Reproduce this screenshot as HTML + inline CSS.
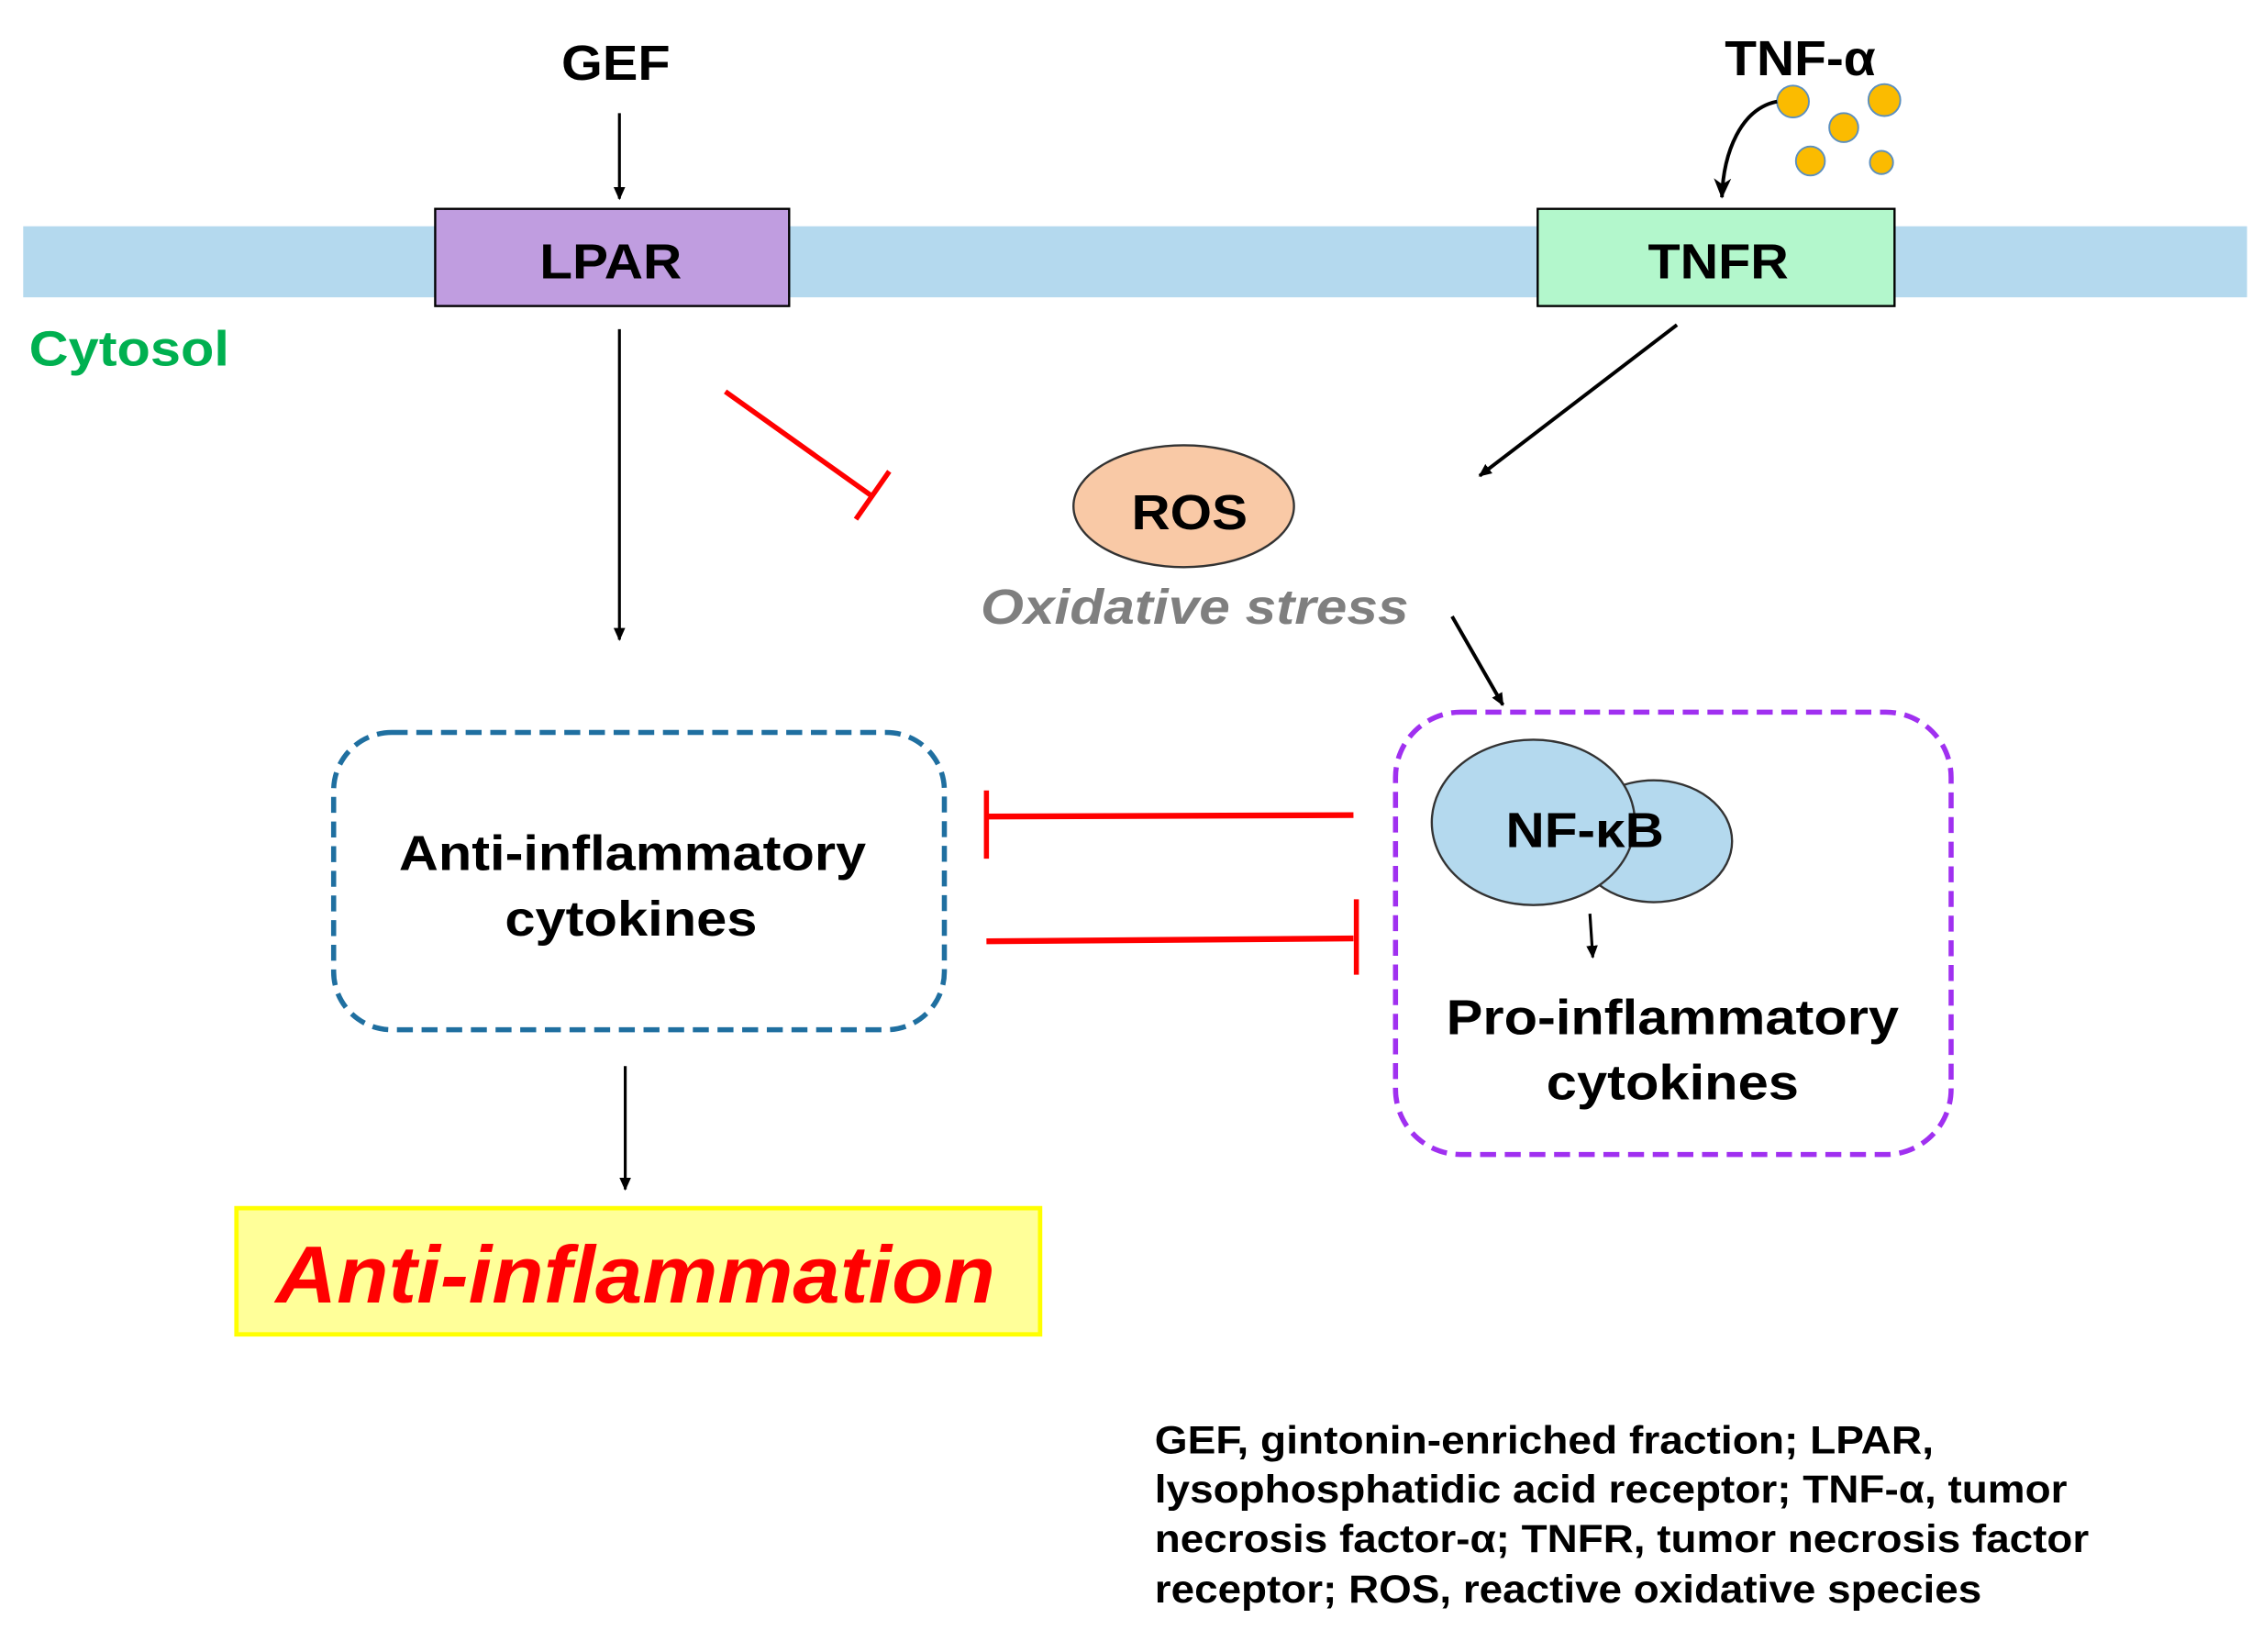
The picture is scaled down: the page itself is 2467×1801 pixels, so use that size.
<!DOCTYPE html>
<html><head><meta charset="utf-8"><style>html,body{margin:0;padding:0;background:#fff}svg{display:block}</style></head>
<body>
<svg width="2467" height="1801" viewBox="0 0 1560 1139" preserveAspectRatio="none" xmlns="http://www.w3.org/2000/svg" font-family="'Liberation Sans', Arial, sans-serif" font-weight="bold">
<defs>
<marker id="ah" markerWidth="10" markerHeight="10" refX="8" refY="5" orient="auto" markerUnits="userSpaceOnUse"><path d="M0,1 L9,5 L0,9 Z" fill="#000"/></marker>
<marker id="ah2" markerWidth="16" markerHeight="14" refX="13" refY="7" orient="auto" markerUnits="userSpaceOnUse"><path d="M0,1 L14,7 L0,13 L4,7 Z" fill="#000"/></marker>
</defs>
<rect x="16" y="156" width="1533" height="49" fill="#b4d9ee"/>
<rect x="300" y="144" width="244" height="67" fill="#c09de0" stroke="#000" stroke-width="1.5"/>
<text x="372" y="192" font-size="34" textLength="98" lengthAdjust="spacingAndGlyphs">LPAR</text>
<rect x="1060" y="144" width="246" height="67" fill="#b3f7cc" stroke="#000" stroke-width="1.5"/>
<text x="1136" y="192" font-size="34" textLength="97" lengthAdjust="spacingAndGlyphs">TNFR</text>
<text x="387" y="55" font-size="34" textLength="75" lengthAdjust="spacingAndGlyphs">GEF</text>
<line x1="427" y1="78" x2="427" y2="137" stroke="#000" stroke-width="2" marker-end="url(#ah)"/>
<text x="1189" y="52" font-size="34" textLength="104" lengthAdjust="spacingAndGlyphs">TNF-α</text>
<g fill="#fbbb00" stroke="#5b8fbf" stroke-width="1.2">
<circle cx="1236" cy="70" r="11"/><circle cx="1299" cy="69" r="11"/><circle cx="1271" cy="88" r="10"/><circle cx="1248" cy="111" r="10"/><circle cx="1297" cy="112" r="8"/>
</g>
<path d="M1225,70 C1200,75 1188,105 1187,136" fill="none" stroke="#000" stroke-width="2.5" marker-end="url(#ah2)"/>
<text x="20" y="252" font-size="34" fill="#00b050" textLength="138" lengthAdjust="spacingAndGlyphs">Cytosol</text>
<line x1="427" y1="227" x2="427" y2="441" stroke="#000" stroke-width="2" marker-end="url(#ah)"/>
<line x1="500" y1="270" x2="601" y2="342" stroke="#f00" stroke-width="3.5"/>
<line x1="613" y1="325" x2="590" y2="358" stroke="#f00" stroke-width="3.5"/>
<line x1="1156" y1="224" x2="1020" y2="328" stroke="#000" stroke-width="2.5" marker-end="url(#ah)"/>
<ellipse cx="816" cy="349" rx="76" ry="42" fill="#f9c9a6" stroke="#333" stroke-width="1.5"/>
<text x="780" y="365" font-size="34" textLength="80" lengthAdjust="spacingAndGlyphs">ROS</text>
<text x="676" y="430" font-size="34" font-style="italic" fill="#7f7f7f" textLength="295" lengthAdjust="spacingAndGlyphs">Oxidative stress</text>
<line x1="1001" y1="425" x2="1036" y2="486" stroke="#000" stroke-width="2.5" marker-end="url(#ah)"/>
<rect x="230" y="505" width="421" height="205" rx="40" fill="none" stroke="#1f6fa0" stroke-width="3.5" stroke-dasharray="11,6"/>
<text x="275" y="600" font-size="34" textLength="322" lengthAdjust="spacingAndGlyphs">Anti-inflammatory</text>
<text x="348" y="645" font-size="34" textLength="174" lengthAdjust="spacingAndGlyphs">cytokines</text>
<line x1="933" y1="562" x2="680" y2="563" stroke="#f00" stroke-width="4"/>
<line x1="680" y1="545" x2="680" y2="592" stroke="#f00" stroke-width="3.5"/>
<line x1="680" y1="649" x2="933" y2="647" stroke="#f00" stroke-width="4"/>
<line x1="935" y1="620" x2="935" y2="672" stroke="#f00" stroke-width="3.5"/>
<rect x="962" y="491" width="383" height="305" rx="45" fill="none" stroke="#a030f0" stroke-width="3.5" stroke-dasharray="11,6"/>
<ellipse cx="1140" cy="580" rx="54" ry="42" fill="#b4d9ee" stroke="#333" stroke-width="1.5"/>
<ellipse cx="1057" cy="567" rx="70" ry="57" fill="#b4d9ee" stroke="#333" stroke-width="1.5"/>
<text x="1038" y="584" font-size="34" textLength="109" lengthAdjust="spacingAndGlyphs">NF-κB</text>
<line x1="1096" y1="630" x2="1098" y2="660" stroke="#000" stroke-width="2" marker-end="url(#ah)"/>
<text x="997" y="713" font-size="34" textLength="312" lengthAdjust="spacingAndGlyphs">Pro-inflammatory</text>
<text x="1066" y="758" font-size="34" textLength="174" lengthAdjust="spacingAndGlyphs">cytokines</text>
<line x1="431" y1="735" x2="431" y2="820" stroke="#000" stroke-width="2" marker-end="url(#ah)"/>
<rect x="163" y="833" width="554" height="87" fill="#ffff99" stroke="#ffff00" stroke-width="3"/>
<text x="190" y="898" font-size="56" font-style="italic" fill="#f00" textLength="496" lengthAdjust="spacingAndGlyphs">Anti-inflammation</text>
<g font-size="27">
<text x="796" y="1002" textLength="537" lengthAdjust="spacingAndGlyphs">GEF, gintonin-enriched fraction; LPAR,</text>
<text x="796" y="1036" textLength="629" lengthAdjust="spacingAndGlyphs">lysophosphatidic acid receptor; TNF-α, tumor</text>
<text x="796" y="1070" textLength="644" lengthAdjust="spacingAndGlyphs">necrosis factor-α; TNFR, tumor necrosis factor</text>
<text x="796" y="1105" textLength="570" lengthAdjust="spacingAndGlyphs">receptor; ROS, reactive oxidative species</text>
</g>
</svg>
</body></html>
